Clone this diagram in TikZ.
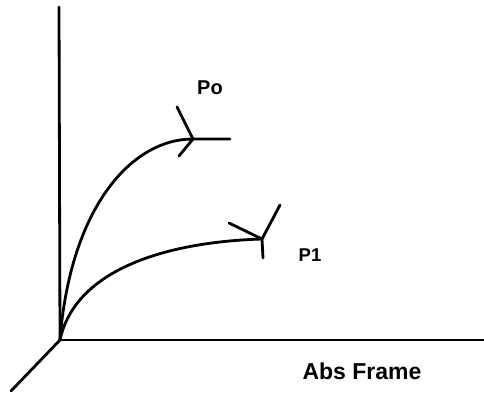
\documentclass[tikz,border=0pt]{standalone}
\usepackage{fontspec}
\setmainfont{Liberation Sans}
\begin{document}
\begin{tikzpicture}[x=1pt,y=-1pt,
  stroke/.style={line width=2.8pt,line cap=round,line join=round},
  lbl/.style={inner sep=0pt,anchor=center,font=\bfseries}]
\useasboundingbox (0,0) rectangle (484,395);
% axes
\coordinate (O) at (60,340);
\coordinate (ytop) at (59,7);
\coordinate (xend) at (486,340);
\coordinate (zend) at (11,391);
\draw[stroke] (O) -- (ytop);
\draw[stroke] (O) -- (xend);
\draw[stroke] (O) -- (zend);
% Po path
\coordinate (potip) at (193,139);
\coordinate (poend) at (230,139);
\coordinate (pob1) at (177,107);
\coordinate (pob2) at (179,156);
\draw[stroke] (O) .. controls (70,210) and (130,139) .. (potip) -- (poend);
\draw[stroke] (pob1) -- (potip) -- (pob2);
% P1 path
\coordinate (p1tip) at (262,239);
\coordinate (p1b1) at (229,223);
\coordinate (p1b2) at (280,205);
\coordinate (p1b3) at (263,258);
\draw[stroke] (O) .. controls (75,270) and (165,242) .. (p1tip);
\draw[stroke] (p1b1) -- (p1tip) -- (p1b2);
\draw[stroke] (p1tip) -- (p1b3);
% labels
\node[lbl,font=\bfseries\fontsize{20}{22}\selectfont] (po) at (210,87.5) {Po};
\node[lbl,font=\bfseries\fontsize{18.5}{20}\selectfont] (p1) at (310,255) {P1};
\node[lbl,font=\bfseries\fontsize{23}{25}\selectfont] (abs) at (362,371.5) {Abs Frame};
\end{tikzpicture}
\end{document}
